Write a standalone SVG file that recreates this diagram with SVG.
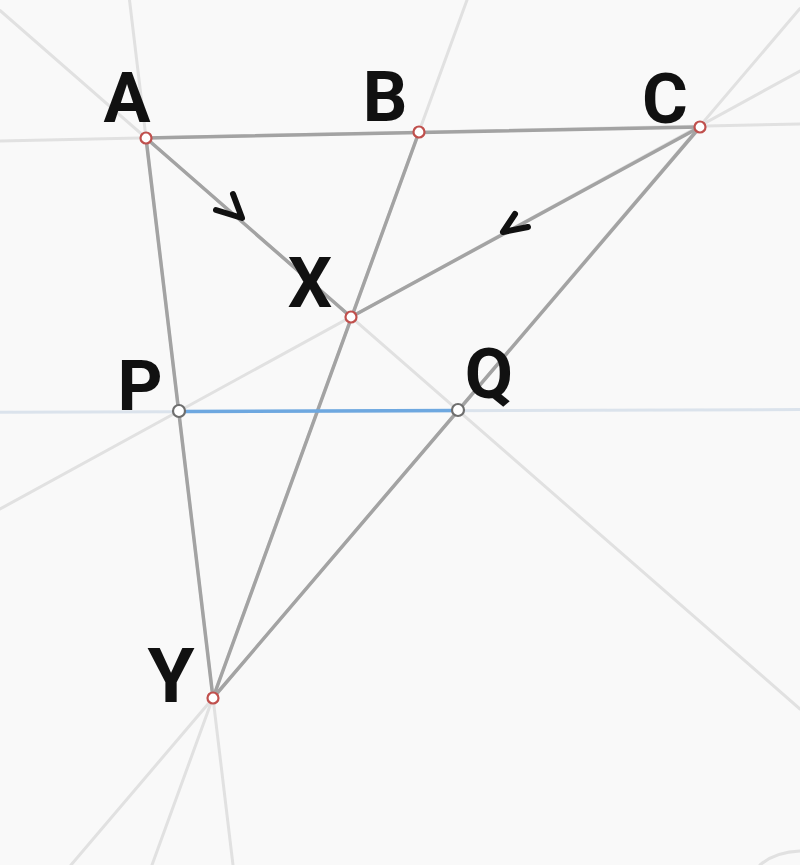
<svg xmlns="http://www.w3.org/2000/svg" width="800" height="865" viewBox="0 0 800 865">
<style>
.bg{fill:#f9f9f9}
.ext{stroke:#e1e1e1;stroke-width:3;fill:none;stroke-linecap:round}
.extb{stroke:#dbe3ec;stroke-width:3;fill:none}
.seg{stroke:#a3a3a3;stroke-width:3.5;fill:none;stroke-linecap:round}
.blue{stroke:#6ea8e0;stroke-width:3.5;fill:none}
.tick{stroke:#111;stroke-width:6;fill:none;stroke-linecap:round;stroke-linejoin:round}
.pt{fill:#ffffff;stroke:#c0504d;stroke-width:2.2}
.pt2{fill:#ffffff;stroke:#6e6e6e;stroke-width:2.2}
.lbl{font-family:Roboto,"Liberation Sans",sans-serif;font-weight:bold;font-size:70px;fill:#111}
</style>
<rect class="bg" x="0" y="0" width="800" height="865"/>
<g id="connectors">
  <line class="ext" x1="0" y1="141" x2="800" y2="124"/>
  <line class="ext" x1="0" y1="10.5" x2="800" y2="709"/>
  <line class="ext" x1="129.5" y1="0" x2="233" y2="865"/>
  <line class="ext" x1="467" y1="0" x2="152" y2="865"/>
  <line class="ext" x1="800" y1="8.5" x2="71" y2="865"/>
  <line class="ext" x1="0" y1="509" x2="800" y2="71"/>
  <line class="extb" x1="0" y1="412.3" x2="800" y2="409.5"/>
  <path class="ext" d="M760 865 Q775 852 800 851"/>
  <line class="seg" x1="146" y1="138" x2="700" y2="127"/>
  <line class="seg" x1="146" y1="138" x2="351" y2="317"/>
  <line class="seg" x1="700" y1="127" x2="351" y2="317"/>
  <line class="seg" x1="419" y1="132" x2="213" y2="698"/>
  <line class="seg" x1="146" y1="138" x2="213" y2="698"/>
  <line class="seg" x1="700" y1="127" x2="213" y2="698"/>
  <line class="blue" x1="179" y1="411.5" x2="458" y2="410.5"/>
  <polyline class="tick" points="233,194 242,218 216,210"/>
  <polyline class="tick" points="515,214 503,232 528,227"/>
</g>
<g id="node-A"><circle class="pt" cx="146" cy="138" r="5.5"/><text class="lbl" x="127" y="122" text-anchor="middle">A</text></g>
<g id="node-B"><circle class="pt" cx="419" cy="132" r="5.5"/><text class="lbl" x="385" y="121" text-anchor="middle">B</text></g>
<g id="node-C"><circle class="pt" cx="700" cy="127" r="5.5"/><text class="lbl" x="665" y="123" text-anchor="middle">C</text></g>
<g id="node-X"><circle class="pt" cx="351" cy="317" r="5.5"/><text class="lbl" x="310" y="307" text-anchor="middle">X</text></g>
<g id="node-P"><circle class="pt2" cx="179" cy="411" r="6"/><text class="lbl" x="140" y="410" text-anchor="middle">P</text></g>
<g id="node-Q"><circle class="pt2" cx="458" cy="410" r="6"/><text class="lbl" x="489" y="398" text-anchor="middle">Q</text></g>
<g id="node-Y"><circle class="pt" cx="213" cy="698" r="5.5"/><text class="lbl" x="171" y="702" text-anchor="middle" style="font-size:76px">Y</text></g>
</svg>
